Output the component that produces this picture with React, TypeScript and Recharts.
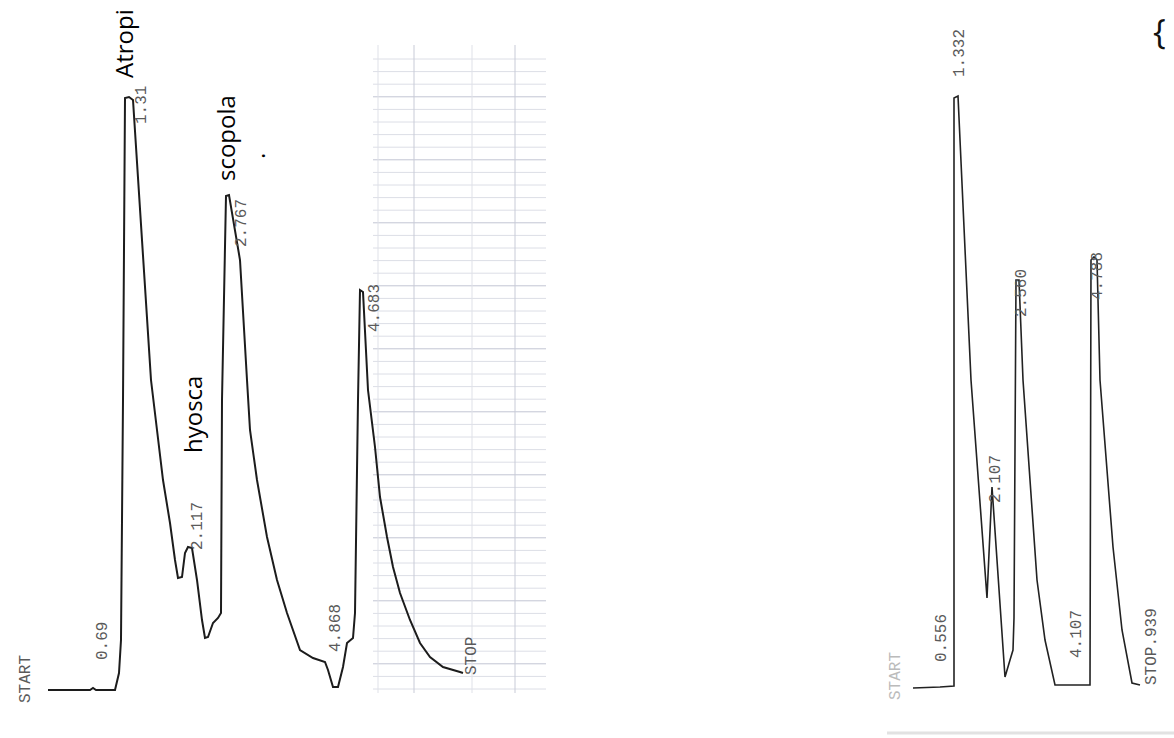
import { LineChart, Line, XAxis, YAxis, ReferenceDot, ReferenceLine } from "recharts";

// chart-paper units (1 unit = 10 px of the page)
const leftTime = [
  4.8, 9.0, 9.3, 9.6, 11.5, 11.9, 12.1, 12.3, 12.5, 12.9, 13.3, 15.1, 15.7, 16.3, 17.0, 17.5,
  17.8, 18.2, 18.5, 18.8, 19.2, 19.7, 20.2, 20.5, 20.8, 21.3, 21.8, 22.1, 22.2, 22.6, 22.9,
  24.0, 24.7, 25.0, 25.7, 26.7, 27.7, 28.7, 30.0, 31.3, 32.5, 32.8, 33.3, 33.8, 34.3, 34.7,
  35.3, 35.5, 35.8, 36.0, 36.3, 36.8, 37.5, 38.0, 38.7, 39.3, 40.0, 41.0, 42.0, 43.0, 44.3,
  46.0, 46.3,
];
const leftSignal = [
  4.8, 4.8, 5.0, 4.8, 4.8, 6.5, 9.8, 33.8, 64.0, 64.1, 63.8, 35.8, 30.8, 25.8, 21.5, 17.8,
  16.0, 16.1, 18.5, 19.1, 19.0, 15.8, 11.8, 10.0, 10.1, 11.5, 12.0, 12.5, 33.8, 54.2, 54.3,
  47.8, 35.8, 30.8, 25.8, 20.1, 15.8, 12.5, 8.8, 8.0, 7.6, 6.8, 5.1, 5.1, 7.1, 9.5,
  10.0, 12.5, 33.8, 44.8, 44.6, 34.8, 29.1, 24.1, 20.1, 17.1, 14.5, 11.8, 9.5, 8.1, 7.1,
  6.6, 6.5,
];

const rightTime = [
  5.3, 8.0, 9.4, 9.4, 9.8, 11.1, 12.7, 13.2, 14.5, 15.0, 15.3, 15.4, 15.6, 15.9, 16.3, 17.0,
  17.7, 18.5, 19.5, 23.0, 23.1, 23.4, 23.7, 24.0, 24.7, 25.3, 26.2, 27.2, 28.0,
];
const rightSignal = [
  5.0, 5.1, 5.2, 64.0, 64.2, 35.8, 14.0, 25.1, 6.1, 7.8, 8.8, 12.0, 45.8, 45.8, 35.8, 25.8,
  15.8, 9.8, 5.3, 5.3, 47.8, 48.1, 47.8, 35.8, 26.8, 19.1, 10.8, 5.5, 5.3,
];

const leftData = leftTime.map((t, i) => ({ t, v: leftSignal[i] }));
const rightData = rightTime.map((t, i) => ({ t, v: rightSignal[i] }));

type Note = { text: string; t: number; v: number; kind: "name" | "print" | "faint" | "brace" };

const leftNotes: Note[] = [
  { text: "Atropi", t: 13.3, v: 66.0, kind: "name" },
  { text: "scopola", t: 23.5, v: 55.7, kind: "name" },
  { text: ".", t: 26.5, v: 57.9, kind: "name" },
  { text: "hyosca", t: 20.2, v: 28.5, kind: "name" },
  { text: "1.31", t: 14.6, v: 61.4, kind: "print" },
  { text: "2.767", t: 24.6, v: 49.1, kind: "print" },
  { text: "4.683", t: 37.9, v: 40.6, kind: "print" },
  { text: "2.117", t: 20.2, v: 18.8, kind: "print" },
  { text: "0.69", t: 10.7, v: 7.8, kind: "print" },
  { text: "START", t: 3.0, v: 3.5, kind: "print" },
  { text: "4.868", t: 34.0, v: 8.6, kind: "print" },
  { text: "STOP", t: 47.6, v: 6.3, kind: "print" },
];

const rightNotes: Note[] = [
  { text: "1.332", t: 10.4, v: 66.1, kind: "print" },
  { text: "0.556", t: 8.6, v: 7.6, kind: "print" },
  { text: "2.107", t: 14.0, v: 23.5, kind: "print" },
  { text: "2.560", t: 16.6, v: 42.1, kind: "print" },
  { text: "4.107", t: 22.1, v: 8.0, kind: "print" },
  { text: "4.788", t: 24.2, v: 43.8, kind: "print" },
  { text: "STOP.939", t: 29.6, v: 5.3, kind: "print" },
  { text: "START", t: 4.0, v: 3.8, kind: "faint" },
  { text: "{", t: 29.3, v: 69.4, kind: "brace" },
];

// faint ruling of the recorder paper
const gridRows = Array.from({ length: 51 }, (_, i) => 4.9 + i * 1.26);
const gridCols = [37.8, 41.4, 47.2, 51.5];

function noteShape(n: Note) {
  return (p: any) => {
    const { cx, cy } = p;
    if (n.kind === "brace") {
      return (
        <text x={cx} y={cy} fontSize={34} fontFamily="Open Sans" fill="#111">
          {n.text}
        </text>
      );
    }
    const isName = n.kind === "name";
    return (
      <text
        x={cx}
        y={cy}
        transform={`rotate(-90 ${cx} ${cy})`}
        fontSize={isName ? 24 : 16}
        fontFamily={isName ? "Open Sans" : "Liberation Mono"}
        fill={isName ? "#000" : n.kind === "faint" ? "#bbb" : "#5a5a5a"}
        textAnchor="start"
      >
        {n.text}
      </text>
    );
  };
}

export default function App() {
  const zero = { top: 0, right: 0, bottom: 0, left: 0 };
  return (
    <div style={{ position: "absolute", left: 0, top: 0, width: 1174, height: 738, background: "#fff" }}>
      <div style={{ position: "absolute", left: 0, top: 0 }}>
        <LineChart width={580} height={738} data={leftData} margin={zero}>
          <XAxis type="number" dataKey="t" domain={[0, 58]} hide />
          <YAxis type="number" domain={[0, 73.8]} hide />
          {gridRows.map((v, i) => (
            <ReferenceLine
              key={"r" + i}
              segment={[{ x: 37.3, y: v }, { x: 54.6, y: v }]}
              stroke={i % 5 === 2 ? "#c2c5d3" : "#dcdee6"}
              strokeWidth={1}
            />
          ))}
          {gridCols.map((t, i) => (
            <ReferenceLine
              key={"c" + i}
              segment={[{ x: t, y: 4.5 }, { x: t, y: 69.3 }]}
              stroke={i % 2 ? "#c8cbd7" : "#dfe1e8"}
              strokeWidth={1}
            />
          ))}
          <Line
            type="linear"
            dataKey="v"
            stroke="#1c1c1c"
            strokeWidth={2}
            dot={false}
            activeDot={false}
            isAnimationActive={false}
          />
          {leftNotes.map((n, i) => (
            <ReferenceDot key={"n" + i} x={n.t} y={n.v} r={0} ifOverflow="visible" shape={noteShape(n)} />
          ))}
        </LineChart>
      </div>

      <div style={{ position: "absolute", left: 860, top: 0 }}>
        <LineChart width={314} height={738} data={rightData} margin={zero}>
          <XAxis type="number" dataKey="t" domain={[0, 31.4]} hide />
          <YAxis type="number" domain={[0, 73.8]} hide />
          <ReferenceLine
            segment={[{ x: 2.7, y: 0.5 }, { x: 31.4, y: 0.5 }]}
            stroke="#e2e2e2"
            strokeWidth={3}
            ifOverflow="visible"
          />
          <Line
            type="linear"
            dataKey="v"
            stroke="#222"
            strokeWidth={1.6}
            dot={false}
            activeDot={false}
            isAnimationActive={false}
          />
          {rightNotes.map((n, i) => (
            <ReferenceDot key={"n" + i} x={n.t} y={n.v} r={0} ifOverflow="visible" shape={noteShape(n)} />
          ))}
        </LineChart>
      </div>
    </div>
  );
}
